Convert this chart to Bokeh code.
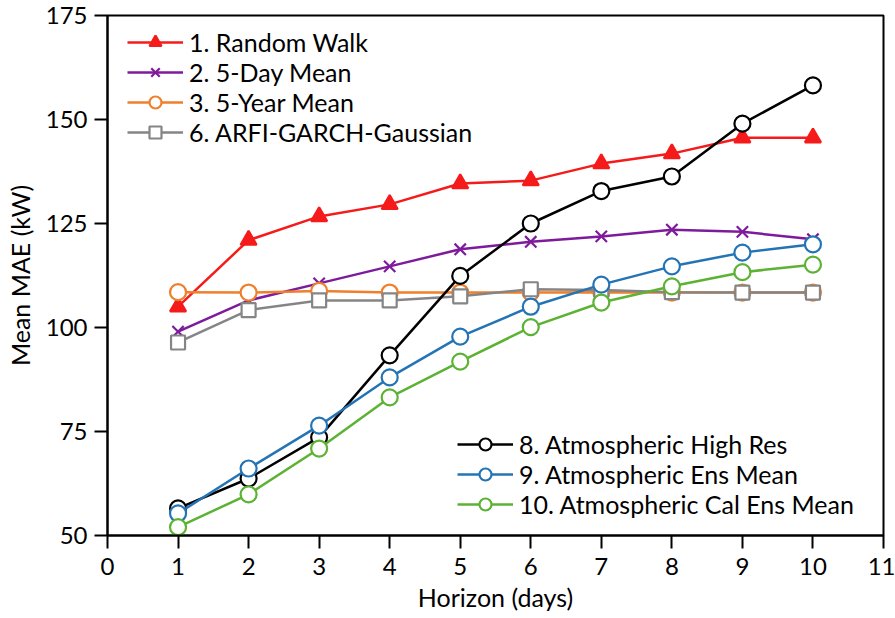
from bokeh.plotting import figure
from bokeh.models import Legend, LegendItem, Range1d, FixedTicker
from bokeh.embed import file_html
from bokeh.resources import INLINE

horizon = [1, 2, 3, 4, 5, 6, 7, 8, 9, 10]
random_walk = [105.0, 121.0, 126.7, 129.6, 134.6, 135.3, 139.4, 141.8, 145.6, 145.6]
five_day_mean = [99.0, 106.5, 110.6, 114.7, 118.8, 120.6, 121.9, 123.5, 123.0, 121.2]
five_year_mean = [108.5, 108.4, 108.8, 108.4, 108.4, 108.4, 108.5, 108.4, 108.4, 108.4]
arfi_garch = [96.4, 104.2, 106.5, 106.5, 107.5, 109.2, 109.0, 108.5, 108.4, 108.4]
high_res = [56.5, 63.7, 73.6, 93.3, 112.4, 125.0, 132.8, 136.3, 149.0, 158.2]
ens_mean = [55.3, 66.1, 76.4, 88.0, 97.8, 105.0, 110.3, 114.7, 118.0, 120.0]
cal_ens_mean = [52.0, 59.9, 70.9, 83.2, 91.8, 100.1, 106.0, 109.9, 113.3, 115.1]

x_ticks = list(range(0, 12))
y_ticks = [50, 75, 100, 125, 150, 175]

FONT = "Lato"

p = figure(width=895, height=618, output_backend="svg", toolbar_location=None,
           x_range=Range1d(0, 11), y_range=Range1d(50, 175),
           min_border_left=107, min_border_right=12, min_border_top=15, min_border_bottom=83)
p.xgrid.visible = False
p.ygrid.visible = False
p.outline_line_color = "black"
p.outline_line_width = 2
p.outline_line_alpha = 1

for ax in (p.xaxis[0], p.yaxis[0]):
    ax.axis_line_width = 2
    ax.axis_line_color = "black"
    ax.major_tick_line_width = 2
    ax.major_tick_line_color = "black"
    ax.major_tick_out = 13
    ax.major_tick_in = 0
    ax.minor_tick_line_color = None
    ax.major_label_text_font = FONT
    ax.major_label_text_font_size = "24px"
    ax.major_label_text_color = "black"
    ax.axis_label_text_font = FONT
    ax.axis_label_text_font_size = "25px"
    ax.axis_label_text_font_style = "normal"
    ax.axis_label_text_color = "black"

p.xaxis.ticker = FixedTicker(ticks=x_ticks)
p.yaxis.ticker = FixedTicker(ticks=y_ticks)
p.xaxis.axis_label = "Horizon (days)"
p.yaxis.axis_label = "Mean MAE (kW)"
p.xaxis.major_label_standoff = 9
p.yaxis.major_label_standoff = 7
p.xaxis.axis_label_standoff = 4
p.yaxis.axis_label_standoff = 8

LW = 2.5
series = [
    ("1. Random Walk", random_walk, "#f51b1b", "triangle", "#f51b1b", 16),
    ("2. 5-Day Mean", five_day_mean, "#7e1b9c", "x", "#7e1b9c", 16),
    ("3. 5-Year Mean", five_year_mean, "#f07f2b", "circle", "white", 16),
    ("6. ARFI-GARCH-Gaussian", arfi_garch, "#858585", "square", "white", 14),
    ("8. Atmospheric High Res", high_res, "#000000", "circle", "white", 16),
    ("9. Atmospheric Ens Mean", ens_mean, "#2474b5", "circle", "white", 16),
    ("10. Atmospheric Cal Ens Mean", cal_ens_mean, "#5cb233", "circle", "white", 16),
]

items = []
for label, ys, color, marker, fill, size in series:
    l = p.line(horizon, ys, line_color=color, line_width=LW)
    s = p.scatter(horizon, ys, marker=marker, size=size, line_color=color,
                  fill_color=fill, line_width=2.2)
    items.append(LegendItem(label=label, renderers=[l, s]))

def make_legend(its, loc):
    lg = Legend(items=its, location=loc, orientation="vertical",
                label_text_font=FONT, label_text_font_size="25px",
                label_text_color="black", glyph_width=56, glyph_height=30,
                label_height=30, label_standoff=6, spacing=0, padding=0,
                margin=0, border_line_alpha=0, background_fill_alpha=0)
    return lg

p.add_layout(make_legend(items[:4], (20, 388)))
p.add_layout(make_legend(items[4:], (350, 16)))

open("out.html", "w").write(file_html(p, INLINE))
